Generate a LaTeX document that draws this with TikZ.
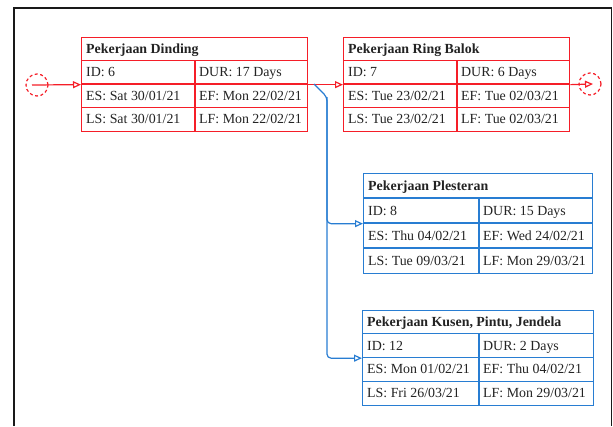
\documentclass[tikz,border=0pt]{standalone}
\usepackage{fontspec}
\setmainfont{Liberation Serif}
\usetikzlibrary{arrows.meta}
\definecolor{pertred}{RGB}{245,30,40}
\definecolor{pertblue}{RGB}{40,125,210}
\definecolor{txt}{RGB}{35,35,35}
\definecolor{framecol}{RGB}{25,25,25}
\tikzset{
  boxframe/.style={draw=\bcol, line width=1.3pt, inner sep=0pt, anchor=north west},
  gridline/.style={draw=\bcol, line width=1.2pt},
  celltext/.style={anchor=west, inner sep=0pt, text=txt, text height=9pt, text depth=0pt,
    font=\fontsize{13.9}{16}\selectfont},
  openarrow/.style={line width=1.2pt, -{Triangle[open, length=8pt, width=7pt]}},
  eventcircle/.style={draw=pertred, circle, inner sep=0pt, minimum size=22pt, line width=1.2pt,
    dash pattern=on 3pt off 2.5pt},
}
% #1 name, #2 title, #3 id, #4 dur, #5 es, #6 ef, #7 ls, #8 lf ; uses \bw \rh \sx \bcol
\newcommand\taskbox[8]{%
  \node[boxframe, minimum width=\bw*1pt, minimum height=4*\rh*1pt] (#1) at (0,0) {};
  \draw[gridline] (0,\rh) -- (\bw,\rh) (0,2*\rh) -- (\bw,2*\rh) (0,3*\rh) -- (\bw,3*\rh)
    (\sx,\rh) -- (\sx,4*\rh);
  \node[celltext] (#1-title) at (5,0.5*\rh) {\bfseries #2};
  \node[celltext] (#1-id) at (5,1.5*\rh) {#3};
  \node[celltext] (#1-dur) at (\sx+4,1.5*\rh) {#4};
  \node[celltext] (#1-es) at (5,2.5*\rh) {#5};
  \node[celltext] (#1-ef) at (\sx+4,2.5*\rh) {#6};
  \node[celltext] (#1-ls) at (5,3.5*\rh) {#7};
  \node[celltext] (#1-lf) at (\sx+4,3.5*\rh) {#8};
}
\begin{document}
\begin{tikzpicture}[x=1pt,y=-1pt]
\useasboundingbox (0,0) rectangle (613,426);
% outer frame
\draw[framecol, line width=2.2pt] (14,426) -- (14,8.5);
\draw[framecol, line width=1.4pt] (13,8) -- (612,8);
\draw[framecol, line width=1pt] (611.5,8) -- (611.5,426);

% task boxes
\begin{scope}[shift={(81,37)}]
  \def\bcol{pertred}\def\bw{226}\def\rh{23.5}\def\sx{114}
  \taskbox{b1}{Pekerjaan Dinding}{ID: 6}{DUR: 17 Days}{ES: Sat 30/01/21}{EF: Mon 22/02/21}{LS: Sat 30/01/21}{LF: Mon 22/02/21}
\end{scope}
\begin{scope}[shift={(343,37)}]
  \def\bcol{pertred}\def\bw{226}\def\rh{23.5}\def\sx{114}
  \taskbox{b2}{Pekerjaan Ring Balok}{ID: 7}{DUR: 6 Days}{ES: Tue 23/02/21}{EF: Tue 02/03/21}{LS: Tue 23/02/21}{LF: Tue 02/03/21}
\end{scope}
\begin{scope}[shift={(363,173)}]
  \def\bcol{pertblue}\def\bw{229}\def\rh{25}\def\sx{116}
  \taskbox{b3}{Pekerjaan Plesteran}{ID: 8}{DUR: 15 Days}{ES: Thu 04/02/21}{EF: Wed 24/02/21}{LS: Tue 09/03/21}{LF: Mon 29/03/21}
\end{scope}
\begin{scope}[shift={(362,310)}]
  \def\bcol{pertblue}\def\bw{231}\def\rh{23.75}\def\sx{117}
  \taskbox{b4}{Pekerjaan Kusen, Pintu, Jendela}{ID: 12}{DUR: 2 Days}{ES: Mon 01/02/21}{EF: Thu 04/02/21}{LS: Fri 26/03/21}{LF: Mon 29/03/21}
\end{scope}

% events
\node[eventcircle] (start) at (37,85) {};
\node[eventcircle] (finish) at (590,84) {};

% red connectors
\draw[pertred, openarrow] ([xshift=-5pt]start.center) -- (b1.west);
\draw[pertred, openarrow] (b1.east) -- (b2.west);
\draw[pertred, openarrow] (b2.east) -- ([xshift=3pt]finish.center);

% blue connectors
\coordinate (fork) at (314,84);
\coordinate (bend) at (327,97);
\draw[pertblue, openarrow, rounded corners=4pt] (fork) -- (bend) -- (bend |- b3.west) -- (b3.west);
\draw[pertblue, openarrow, rounded corners=4pt] (bend) -- (bend |- b4.west) -- (b4.west);
\end{tikzpicture}
\end{document}
